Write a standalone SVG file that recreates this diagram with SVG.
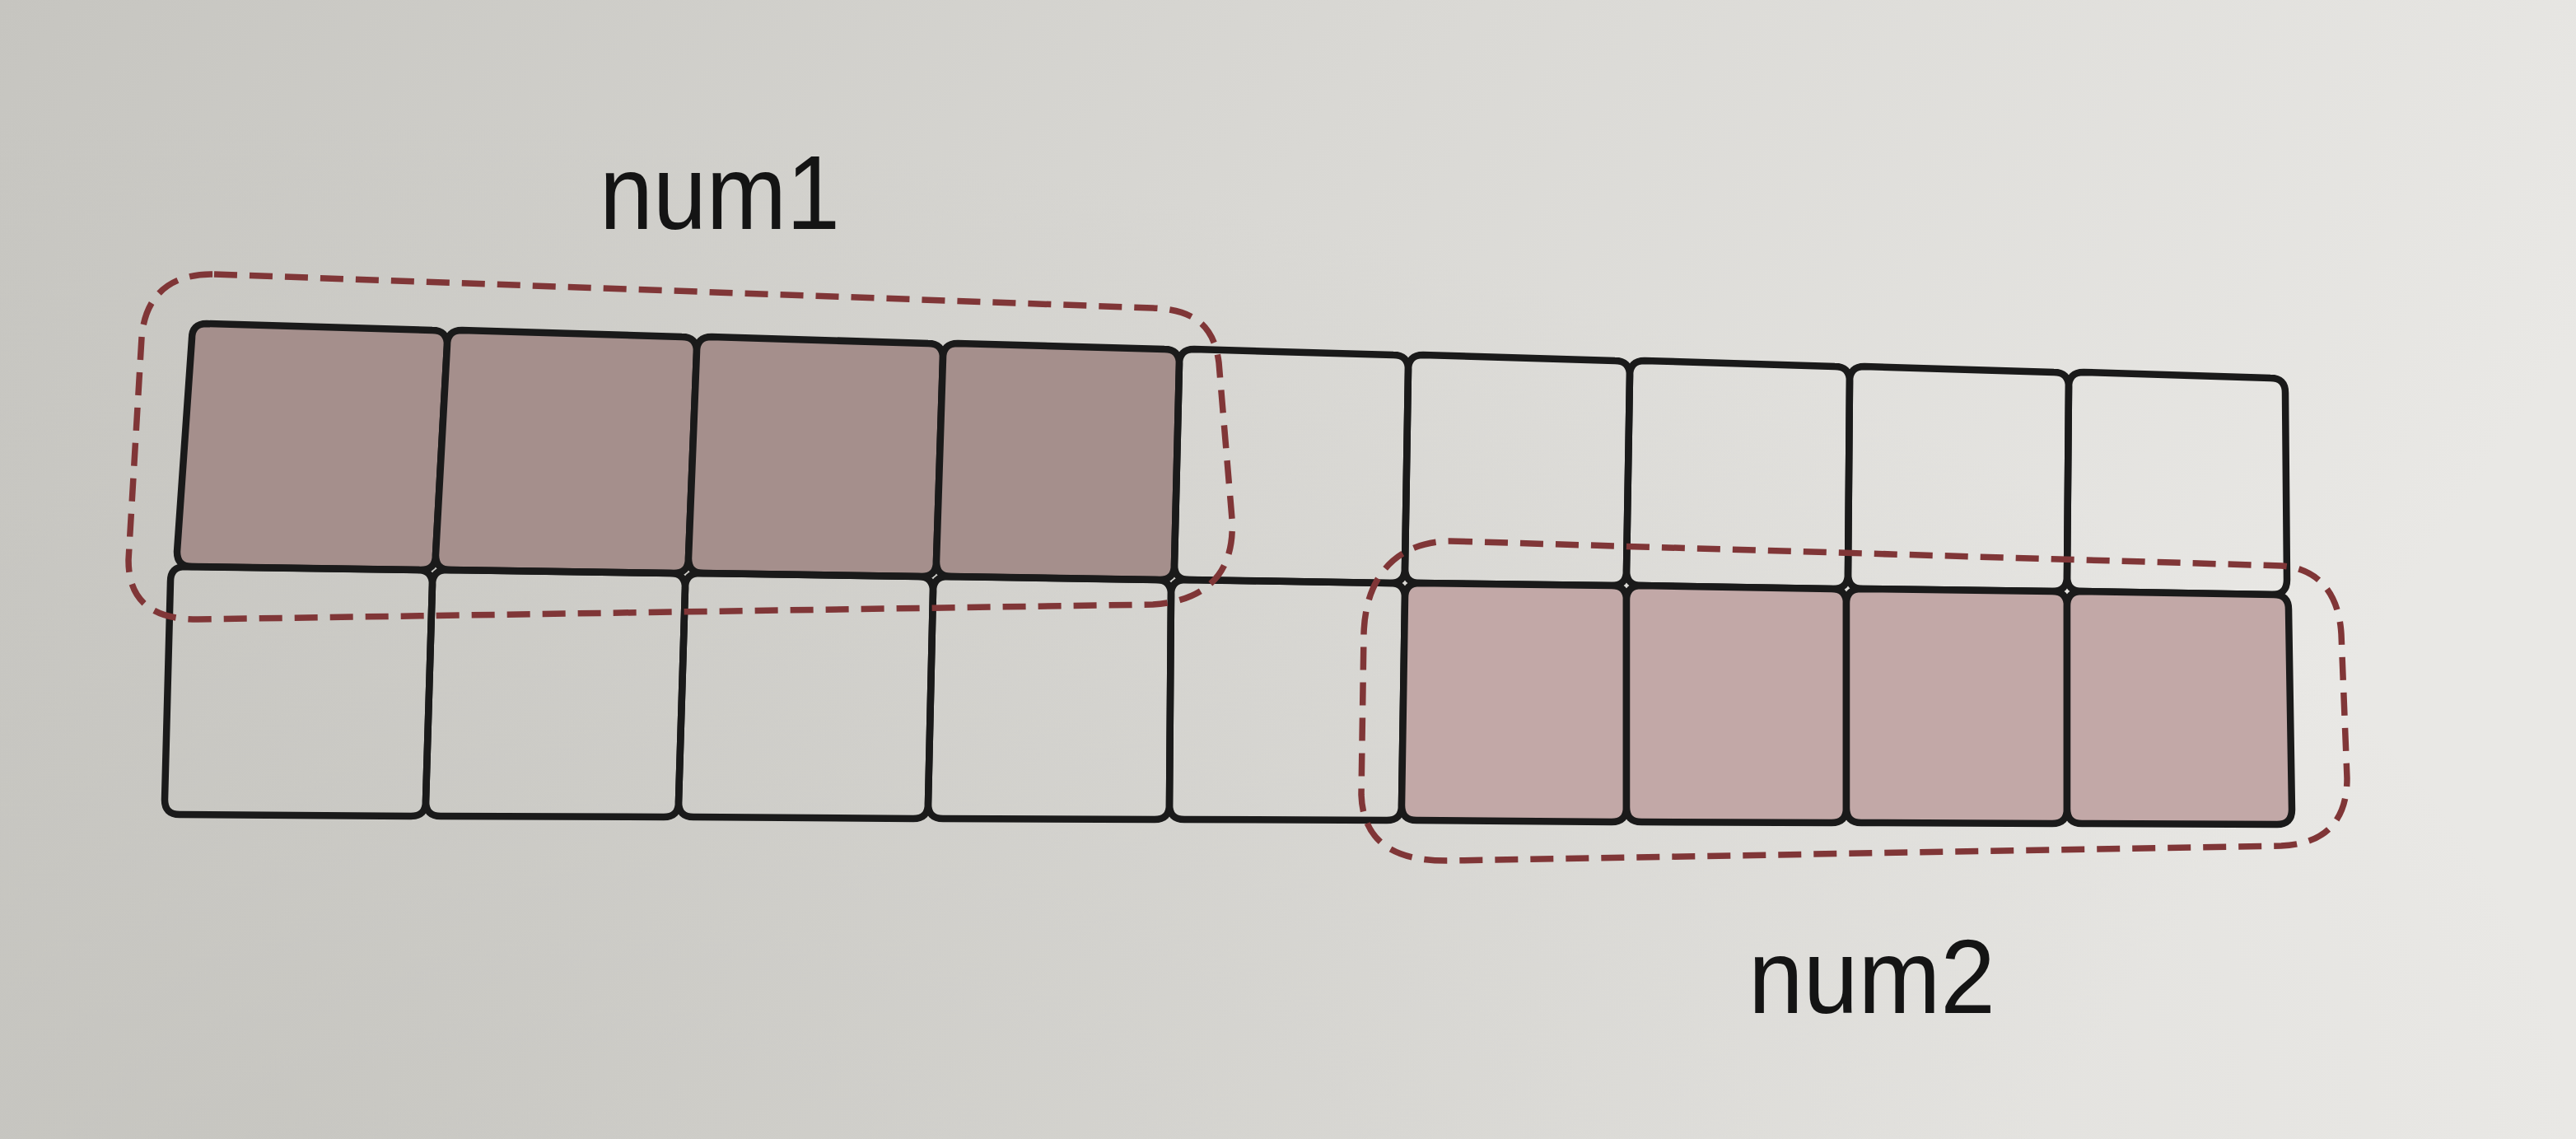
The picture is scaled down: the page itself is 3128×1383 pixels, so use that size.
<svg xmlns="http://www.w3.org/2000/svg" width="3128" height="1383" viewBox="0 0 3128 1383">
<defs>
<linearGradient id="paper" x1="0" y1="0" x2="1" y2="0.3">
<stop offset="0" stop-color="#c6c5c0"/>
<stop offset="0.5" stop-color="#d9d8d4"/>
<stop offset="1" stop-color="#e9e8e5"/>
</linearGradient>
<radialGradient id="shade" cx="0.1" cy="1" r="0.9">
<stop offset="0" stop-color="#b8b7b1" stop-opacity="0.45"/>
<stop offset="1" stop-color="#b8b7b1" stop-opacity="0"/>
</radialGradient>
<style>
.cell{stroke:#1a1a1a;stroke-width:8.5;stroke-linejoin:round;fill:none}
.hiA{fill:#a58f8c}
.hiB{fill:#c2a8a7}
.loop{fill:none;stroke:#803637;stroke-width:7.5;stroke-dasharray:28 15;stroke-linecap:butt}
.lbl{font-family:"Liberation Sans",Arial,sans-serif;font-size:128px;fill:#141414}
</style>
</defs>
<rect x="0" y="0" width="3128" height="1383" fill="url(#paper)"/>
<rect x="0" y="0" width="3128" height="1383" fill="url(#shade)"/>
<g id="top-row">
<g id="c1"><path class="cell hiA" d="M251,393 L525,401 Q543,401 543,419 L529,674 Q529,692 511,692 L233,688 Q215,688 215,670 L233,411 Q233,393 251,393 Z"/></g>
<g id="c2"><path class="cell hiA" d="M561,401 L828,409 Q846,409 846,427 L836,678 Q836,696 818,696 L547,692 Q529,692 529,674 L543,419 Q543,401 561,401 Z"/></g>
<g id="c3"><path class="cell hiA" d="M864,409 L1127,417 Q1145,417 1145,435 L1137,682 Q1137,700 1119,700 L854,696 Q836,696 836,678 L846,427 Q846,409 864,409 Z"/></g>
<g id="c4"><path class="cell hiA" d="M1163,417 L1414,424 Q1432,424 1432,442 L1426,686 Q1426,704 1408,704 L1155,700 Q1137,700 1137,682 L1145,435 Q1145,417 1163,417 Z"/></g>
<g id="c5"><path class="cell" d="M1450,424 L1692,431 Q1710,431 1710,449 L1706,690 Q1706,708 1688,708 L1444,704 Q1426,704 1426,686 L1432,442 Q1432,424 1450,424 Z"/></g>
<g id="c6"><path class="cell" d="M1728,431 L1961,438 Q1979,438 1979,456 L1975,693 Q1975,711 1957,711 L1724,708 Q1706,708 1706,690 L1710,449 Q1710,431 1728,431 Z"/></g>
<g id="c7"><path class="cell" d="M1997,438 L2228,445 Q2246,445 2246,463 L2244,697 Q2244,715 2226,715 L1993,711 Q1975,711 1975,693 L1979,456 Q1979,438 1997,438 Z"/></g>
<g id="c8"><path class="cell" d="M2264,445 L2494,452 Q2512,452 2512,470 L2510,700 Q2510,718 2492,718 L2262,715 Q2244,715 2244,697 L2246,463 Q2246,445 2264,445 Z"/></g>
<g id="c9"><path class="cell" d="M2530,452 L2757,459 Q2775,459 2775,477 L2777,704 Q2777,722 2759,722 L2528,718 Q2510,718 2510,700 L2512,470 Q2512,452 2530,452 Z"/></g>
</g>
<g id="bottom-row">
<g id="d1"><path class="cell" d="M225,688 L507,692 Q525,692 525,710 L517,973 Q517,991 499,991 L218,989 Q200,989 200,971 L207,706 Q207,688 225,688 Z"/></g>
<g id="d2"><path class="cell" d="M543,692 L814,696 Q832,696 832,714 L824,974 Q824,992 806,992 L535,991 Q517,991 517,973 L525,710 Q525,692 543,692 Z"/></g>
<g id="d3"><path class="cell" d="M850,696 L1115,700 Q1133,700 1133,718 L1127,976 Q1127,994 1109,994 L842,992 Q824,992 824,974 L832,714 Q832,696 850,696 Z"/></g>
<g id="d4"><path class="cell" d="M1151,700 L1404,704 Q1422,704 1422,722 L1420,977 Q1420,995 1402,995 L1145,994 Q1127,994 1127,976 L1133,718 Q1133,700 1151,700 Z"/></g>
<g id="d5"><path class="cell" d="M1440,704 L1688,708 Q1706,708 1706,726 L1702,978 Q1702,996 1684,996 L1438,995 Q1420,995 1420,977 L1422,722 Q1422,704 1440,704 Z"/></g>
<g id="d6"><path class="cell hiB" d="M1724,708 L1957,711 Q1975,711 1975,729 L1975,980 Q1975,998 1957,998 L1720,996 Q1702,996 1702,978 L1706,726 Q1706,708 1724,708 Z"/></g>
<g id="d7"><path class="cell hiB" d="M1993,711 L2224,715 Q2242,715 2242,733 L2242,981 Q2242,999 2224,999 L1993,998 Q1975,998 1975,980 L1975,729 Q1975,711 1993,711 Z"/></g>
<g id="d8"><path class="cell hiB" d="M2260,715 L2492,718 Q2510,718 2510,736 L2510,982 Q2510,1000 2492,1000 L2260,999 Q2242,999 2242,981 L2242,733 Q2242,715 2260,715 Z"/></g>
<g id="d9"><path class="cell hiB" d="M2528,718 L2761,722 Q2779,722 2779,740 L2783,983 Q2783,1001 2765,1001 L2528,1000 Q2510,1000 2510,982 L2510,736 Q2510,718 2528,718 Z"/></g>
</g>
<g id="connectors">
<path id="num1-loop" class="loop" d="M260,333 L1400,374 C1450,376 1474,395 1480,440 L1496,630 C1500,700 1460,730 1400,734 L240,752 C185,752 156,730 156,680 L172,410 C176,360 205,332 260,333 Z"/>
<path id="num2-loop" class="loop" d="M1760,657 L2770,687 C2815,690 2840,720 2843,770 L2850,945 C2850,1000 2820,1025 2770,1027 L1760,1045 C1690,1046 1655,1020 1653,965 L1656,770 C1658,695 1700,658 1760,657 Z"/>
</g>
<g id="num1-label"><text class="lbl" x="728" y="278" textLength="292" lengthAdjust="spacingAndGlyphs">num1</text></g>
<g id="num2-label"><text class="lbl" x="2123" y="1230" textLength="300" lengthAdjust="spacingAndGlyphs">num2</text></g>
</svg>
